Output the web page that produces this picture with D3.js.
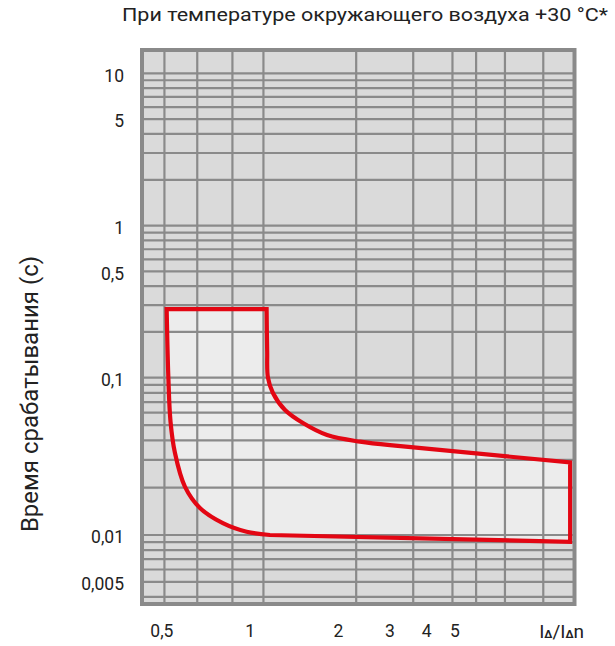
<!DOCTYPE html>
<html><head><meta charset="utf-8">
<script src="https://cdn.jsdelivr.net/npm/d3@7"></script>
<style>body{margin:0;background:#fff}svg{display:block}text{font-family:Roboto,"Noto Sans",sans-serif;fill:#222}</style>
</head><body><svg id="c" width="615" height="646"></svg>
<script>
const title = "При температуре окружающего воздуха +30 °C*";
const yTitle = "Время срабатывания (с)";
const xTickValues = [0.5, 1, 2, 3, 4, 5];
const xTickLabels = ["0,5", "1", "2", "3", "4", "5"];
const yTickValues = [10, 5, 1, 0.5, 0.1, 0.01, 0.005];
const yTickLabels = ["10", "5", "1", "0,5", "0,1", "0,01", "0,005"];
const xGridValues = [0.51, 0.66, 0.87, 1.11, 2.3, 3.6, 4.9, 5.9, 7.4, 10];
const yGridValues = [0.004, 0.005, 0.006, 0.007, 0.008, 0.009,
  0.01, 0.02, 0.03, 0.04, 0.05, 0.06, 0.07, 0.08, 0.09,
  0.1, 0.2, 0.3, 0.4, 0.5, 0.6, 0.7, 0.8, 0.9,
  1, 2, 3, 4, 5, 6, 7, 8, 9, 10];
// trip-time band boundary (multiple of rated residual current, seconds)
const bandTop = [[0.519, 0.283], [1.138, 0.283]];
const bandUpperCurve = [[1.138, 0.283], [1.143, 0.15], [1.15, 0.1], [1.196, 0.08], [1.315, 0.0623], [1.514, 0.0515], [1.83, 0.0432], [2.37, 0.0392], [3.0, 0.0373]];
const bandRight = [[3.0, 0.0373], [12.35, 0.0289], [12.35, 0.00905], [1.168, 0.01]];
const bandLowerCurve = [[1.168, 0.01], [0.973, 0.0105], [0.807, 0.0119], [0.674, 0.01485], [0.599, 0.0203], [0.554, 0.0332], [0.535, 0.0525], [0.526, 0.1], [0.519, 0.283]];

const svg = d3.select("#c");
const L = 142, R = 574.5, T = 50, B = 604;
const x = d3.scaleLog().domain([0.4276, 12.78]).range([L, R]);
const y = d3.scaleLog().domain([0.0036, 0.01, 0.1, 1, 10, 14.2]).range([B, 535, 377.7, 225.7, 73.3, T]);

svg.append("rect").attr("x", L).attr("y", T).attr("width", R - L).attr("height", B - T).attr("fill", "#dadada");

const lineGen = c => d3.line().x(d => x(d[0])).y(d => y(d[1])).curve(c);
const segs = [[bandTop, d3.curveLinear], [bandUpperCurve, d3.curveCatmullRom.alpha(0.5)], [bandRight, d3.curveLinear], [bandLowerCurve, d3.curveCatmullRom.alpha(0.5)]];
let pathD = segs.map((s, i) => { const p = lineGen(s[1])(s[0]); return i === 0 ? p : "L" + p.slice(1); }).join("") + "Z";

svg.append("path").attr("d", pathD).attr("fill", "#ececec");

const grid = svg.append("g").attr("stroke", "#8a8a8a").attr("stroke-width", 2.2);
grid.selectAll(".gx").data(xGridValues).join("line").attr("x1", d => x(d)).attr("x2", d => x(d)).attr("y1", T).attr("y2", B);
grid.selectAll(".gy").data(yGridValues).join("line").attr("x1", L).attr("x2", R).attr("y1", d => y(d)).attr("y2", d => y(d));

svg.append("path").attr("d", pathD).attr("fill", "none").attr("stroke", "#e30613").attr("stroke-width", 4.2).attr("stroke-linejoin", "miter");

svg.append("rect").attr("x", L).attr("y", T).attr("width", R - L).attr("height", B - T).attr("fill", "none").attr("stroke", "#8a8a8a").attr("stroke-width", 4);

svg.append("text").attr("x", 122).attr("y", 21).attr("font-size", 18.5).attr("textLength", 486).attr("lengthAdjust", "spacingAndGlyphs").text(title);

svg.selectAll(".yt").data(yTickValues).join("text").attr("x", 124).attr("y", d => y(d) + 2).attr("dy", "0.36em").attr("text-anchor", "end").attr("font-size", 17.5).text((d, i) => yTickLabels[i]);
svg.selectAll(".xt").data(xTickValues).join("text").attr("x", d => x(d)).attr("y", 637).attr("text-anchor", "middle").attr("font-size", 17.5).text((d, i) => xTickLabels[i]);

const u = svg.append("text").attr("x", 584).attr("y", 638).attr("text-anchor", "end").attr("font-size", 19);
u.append("tspan").text("I");
u.append("tspan").attr("font-size", 11).attr("font-weight", "bold").text("Δ");
u.append("tspan").text("/I");
u.append("tspan").attr("font-size", 11).attr("font-weight", "bold").text("Δ");
u.append("tspan").text("n");

svg.append("text").attr("transform", "translate(38,394) rotate(-90)").attr("text-anchor", "middle").attr("font-size", 24).text(yTitle);
</script></body></html>
